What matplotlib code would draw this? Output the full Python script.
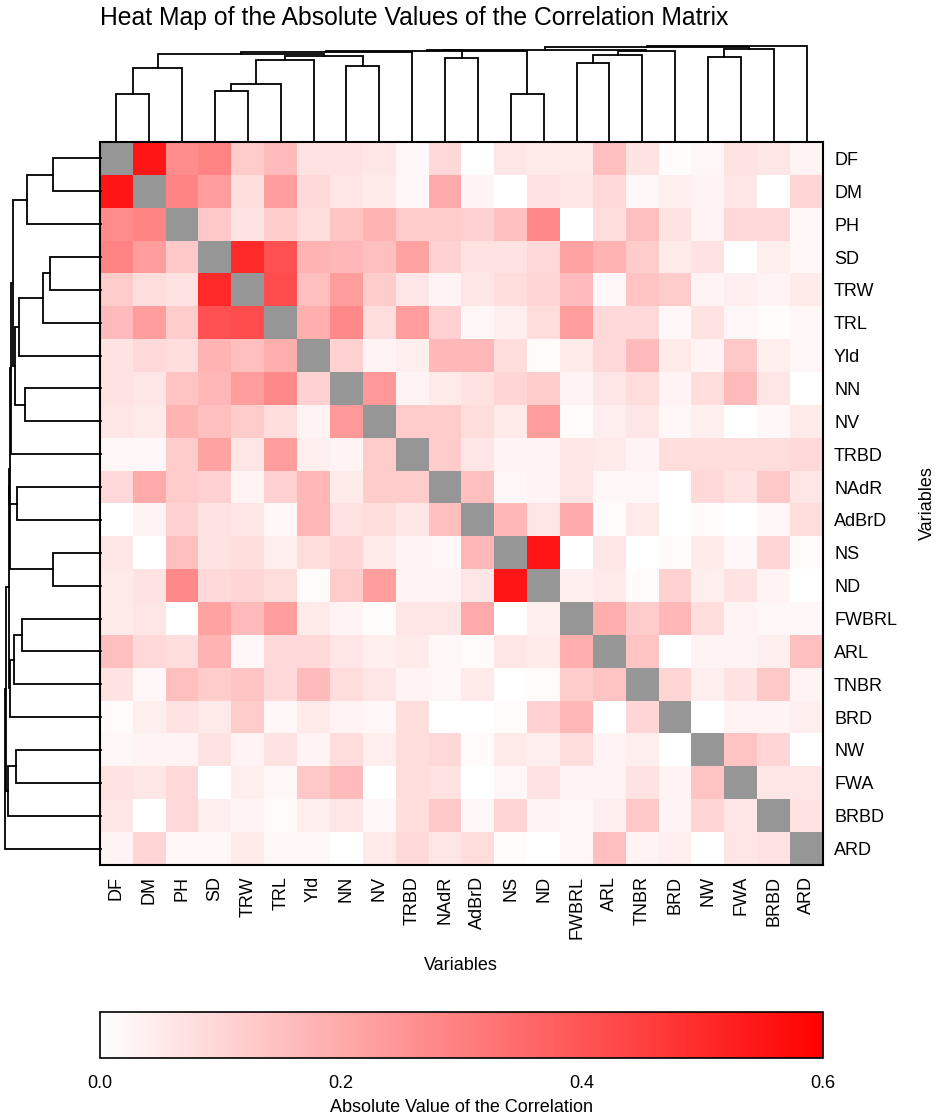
import matplotlib
matplotlib.use('Agg')
import numpy as np
import matplotlib.pyplot as plt
from matplotlib.colors import LinearSegmentedColormap

plt.rcParams['font.family'] = ['Liberation Sans', 'DejaVu Sans']

# Variables in dendrogram order (same order for rows and columns)
variables = ['DF', 'DM', 'PH', 'SD', 'TRW', 'TRL', 'Yld', 'NN', 'NV', 'TRBD', 'NAdR',
             'AdBrD', 'NS', 'ND', 'FWBRL', 'ARL', 'TNBR', 'BRD', 'NW', 'FWA', 'BRBD', 'ARD']

# |r| upper triangle, row i holds columns i+1 .. 21
upper = [
    [0.55, 0.27, 0.29, 0.12, 0.16, 0.07, 0.07, 0.06, 0.02, 0.09, 0.00, 0.06, 0.05, 0.05, 0.15, 0.07, 0.01, 0.02, 0.07, 0.06, 0.03],
    [0.29, 0.23, 0.08, 0.23, 0.09, 0.06, 0.05, 0.02, 0.20, 0.03, 0.00, 0.07, 0.06, 0.09, 0.02, 0.04, 0.03, 0.06, 0.00, 0.10],
    [0.13, 0.07, 0.12, 0.08, 0.14, 0.18, 0.12, 0.12, 0.11, 0.15, 0.28, 0.00, 0.08, 0.15, 0.07, 0.03, 0.09, 0.09, 0.02],
    [0.50, 0.41, 0.18, 0.17, 0.15, 0.22, 0.11, 0.07, 0.07, 0.09, 0.22, 0.18, 0.12, 0.05, 0.07, 0.00, 0.04, 0.02],
    [0.42, 0.15, 0.23, 0.12, 0.06, 0.03, 0.06, 0.08, 0.10, 0.16, 0.02, 0.14, 0.12, 0.03, 0.04, 0.03, 0.05],
    [0.19, 0.28, 0.08, 0.23, 0.11, 0.02, 0.04, 0.08, 0.23, 0.09, 0.09, 0.02, 0.07, 0.02, 0.01, 0.02],
    [0.11, 0.03, 0.04, 0.17, 0.17, 0.08, 0.01, 0.05, 0.09, 0.16, 0.05, 0.03, 0.13, 0.04, 0.02],
    [0.24, 0.03, 0.05, 0.07, 0.10, 0.12, 0.03, 0.06, 0.08, 0.03, 0.08, 0.16, 0.06, 0.00],
    [0.12, 0.12, 0.08, 0.05, 0.23, 0.01, 0.04, 0.06, 0.02, 0.04, 0.00, 0.02, 0.05],
    [0.12, 0.06, 0.03, 0.03, 0.06, 0.05, 0.03, 0.08, 0.08, 0.08, 0.08, 0.09],
    [0.15, 0.02, 0.03, 0.06, 0.02, 0.02, 0.00, 0.09, 0.07, 0.13, 0.06],
    [0.17, 0.06, 0.20, 0.01, 0.05, 0.00, 0.01, 0.00, 0.02, 0.08],
    [0.55, 0.00, 0.06, 0.00, 0.01, 0.05, 0.02, 0.10, 0.01],
    [0.04, 0.05, 0.01, 0.11, 0.04, 0.07, 0.03, 0.00],
    [0.19, 0.12, 0.17, 0.08, 0.03, 0.02, 0.02],
    [0.14, 0.00, 0.03, 0.03, 0.04, 0.15],
    [0.10, 0.04, 0.07, 0.13, 0.03],
    [0.00, 0.03, 0.03, 0.04],
    [0.14, 0.10, 0.00],
    [0.06, 0.06],
    [0.07],
]

# Dendrogram merges: (child a, child b, height); ids >= 22 are earlier merges
merges = [
    (0, 1, 0.497), (22, 2, 0.774), (3, 4, 0.534), (24, 5, 0.604), (25, 6, 0.854),
    (7, 8, 0.792), (26, 27, 0.899), (23, 28, 0.914), (29, 9, 0.941), (10, 11, 0.872),
    (12, 13, 0.497), (14, 15, 0.826), (33, 16, 0.906), (34, 17, 0.948), (18, 19, 0.889),
    (36, 20, 0.966), (30, 32, 0.950), (38, 31, 0.956), (39, 35, 0.962), (40, 37, 0.986),
    (41, 21, 1.000),
]

n = len(variables)
mat = np.full((n, n), np.nan)
for i, row in enumerate(upper):
    for k, v in enumerate(row):
        j = i + 1 + k
        mat[i, j] = v
        mat[j, i] = v

W, H = 935, 1118
fig = plt.figure(figsize=(W / 100, H / 100), dpi=100)


def box(x0, y0, x1, y1):
    return [x0 / W, 1 - y1 / H, (x1 - x0) / W, (y1 - y0) / H]


def dendro_segments():
    pos = {i: i + 0.5 for i in range(n)}
    hgt = {i: 0.0 for i in range(n)}
    segs = []
    for k, (a, b, h) in enumerate(merges):
        segs.append(([pos[a], pos[a], pos[b], pos[b]], [hgt[a], h, h, hgt[b]]))
        pos[n + k] = (pos[a] + pos[b]) / 2
        hgt[n + k] = h
    return segs


segs = dendro_segments()

# heat map
ax = fig.add_axes(box(100, 142, 823, 865))
cmap = LinearSegmentedColormap.from_list('wr', ['#ffffff', '#ff0000'])
cmap.set_bad('#969696')
im = ax.imshow(np.ma.masked_invalid(mat), cmap=cmap, vmin=0, vmax=0.6,
               aspect='auto', interpolation='nearest', extent=(0, n, n, 0))
ax.set_xticks(np.arange(n) + 0.5)
ax.set_xticklabels(variables, rotation=90, fontsize=13)
ax.set_yticks(np.arange(n) + 0.5)
ax.set_yticklabels(variables, fontsize=13)
ax.yaxis.tick_right()
ax.tick_params(axis='x', length=0, pad=8)
ax.tick_params(axis='y', length=0, pad=8)
for s in ax.spines.values():
    s.set_linewidth(1.5)

# top dendrogram
axt = fig.add_axes(box(100, 46, 823, 142))
for xs, ys in segs:
    axt.plot(xs, ys, color='black', lw=1.3, clip_on=False, solid_joinstyle='miter')
axt.set_xlim(0, n)
axt.set_ylim(0, 1.0)
axt.axis('off')

# left dendrogram
axl = fig.add_axes(box(5, 142, 101, 865))
for xs, ys in segs:
    axl.plot(ys, xs, color='black', lw=1.3, clip_on=False, solid_joinstyle='miter')
axl.set_ylim(n, 0)
axl.set_xlim(1.0, 0)
axl.axis('off')

fig.text(100 / W, 1 - 18 / H, 'Heat Map of the Absolute Values of the Correlation Matrix',
         fontsize=17.8, ha='left', va='center')
fig.text(461 / W, 1 - 965 / H, 'Variables', fontsize=13, ha='center', va='center')
fig.text(927 / W, 1 - 503 / H, 'Variables', fontsize=13, ha='center', va='center', rotation=90)

# colour bar
cax = fig.add_axes(box(100, 1012, 823, 1058))
cb = fig.colorbar(im, cax=cax, orientation='horizontal', ticks=[0, 0.2, 0.4, 0.6], format='%.1f')
cb.outline.set_linewidth(1.2)
cax.tick_params(length=0, pad=12, labelsize=13)
fig.text(461 / W, 1 - 1107 / H, 'Absolute Value of the Correlation', fontsize=13,
         ha='center', va='center')

fig.savefig('out.png', dpi=100)
